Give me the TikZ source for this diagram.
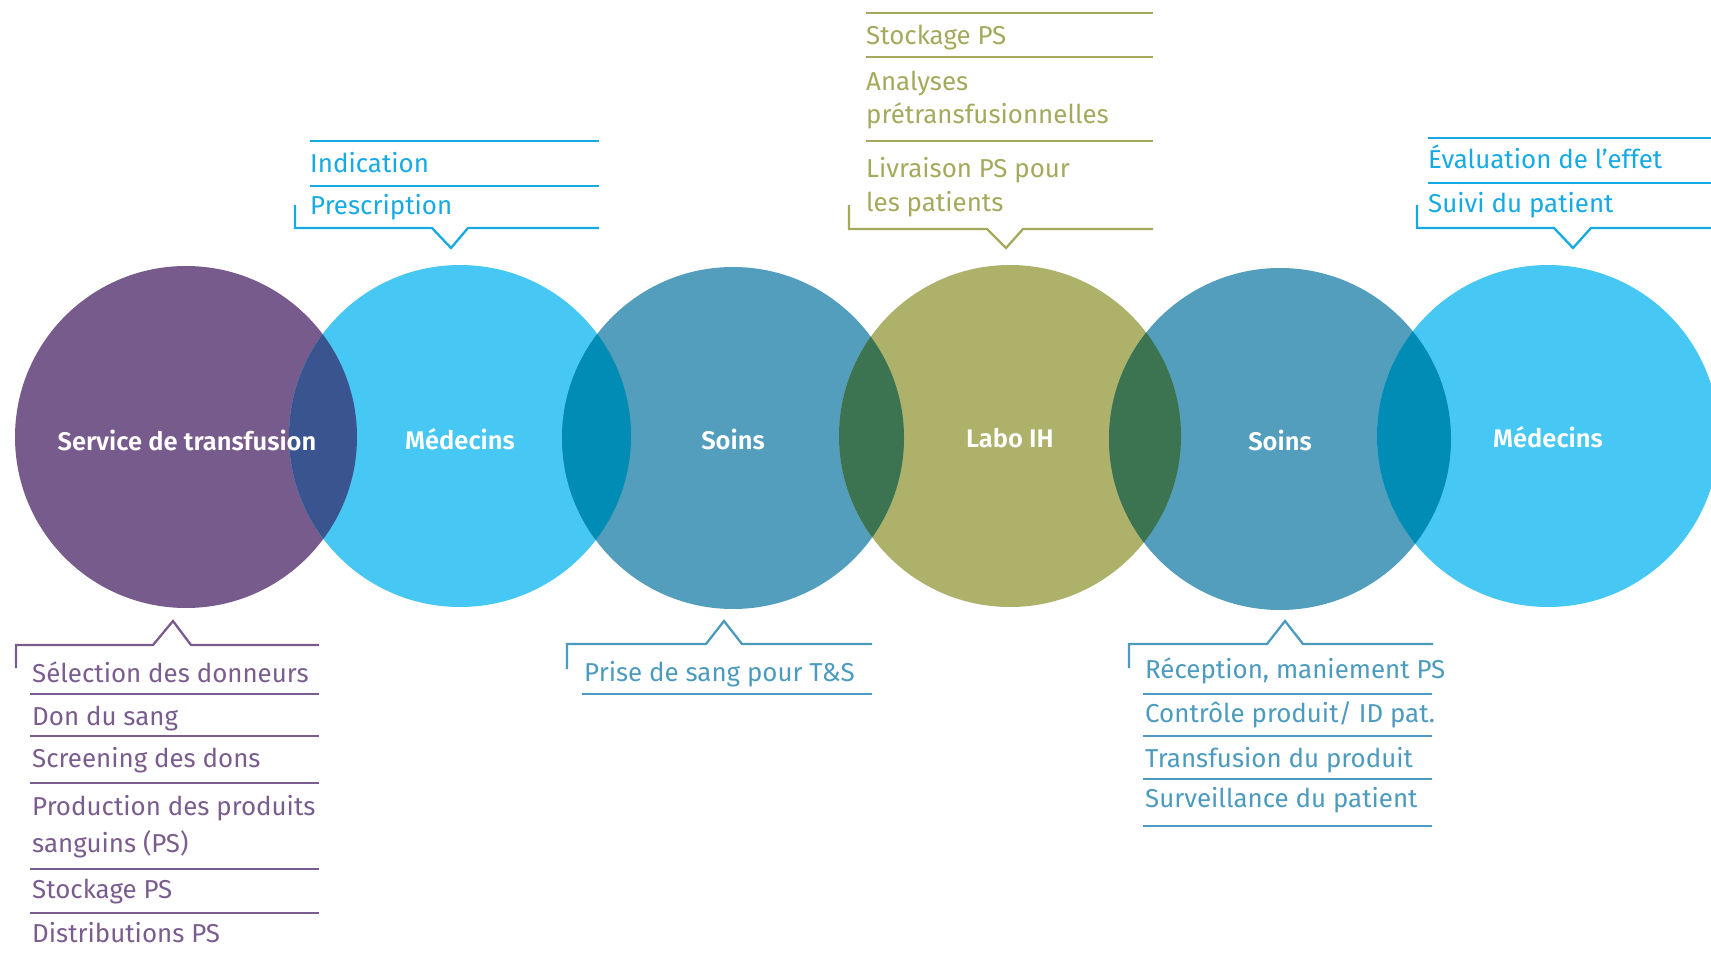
\documentclass[tikz,border=0pt]{standalone}
\usepackage{fontspec}
\setmainfont{Fira Sans}[BoldFont={Fira Sans SemiBold}]
\definecolor{cpurple}{HTML}{775B8C}
\definecolor{cblue}{HTML}{47C7F3}
\definecolor{cteal}{HTML}{539DBD}
\definecolor{colive}{HTML}{ADB16A}
\definecolor{ovpb}{HTML}{3A5490}
\definecolor{ovbt}{HTML}{008CB5}
\definecolor{ovto}{HTML}{3C7350}
\definecolor{tpurple}{HTML}{7A5D8E}
\definecolor{tblue}{HTML}{16AAE4}
\definecolor{tolive}{HTML}{A5A95C}
\definecolor{tteal}{HTML}{4C9BBF}
\tikzset{
  circlabel/.style={text=white,font=\fontsize{25.5}{30}\selectfont\bfseries,anchor=base,inner sep=0pt},
  item/.style={font=\fontsize{25.9}{30}\selectfont,anchor=base west,inner sep=0pt},
  sepline/.style={line width=1.4pt},
  bracket/.style={line width=2.3pt,line join=miter}
}
\begin{document}
\begin{tikzpicture}[x=1pt,y=-1pt]
\useasboundingbox (0,0) rectangle (1711,958);
\clip (0,0) rectangle (1711,958);
\def\R{171}
\coordinate (c1) at (186,437);
\coordinate (c2) at (460,436);
\coordinate (c3) at (733,438);
\coordinate (c4) at (1010,436);
\coordinate (c5) at (1280,439);
\coordinate (c6) at (1548,436);
% circles
\fill[cpurple] (c1) circle (\R);
\fill[cblue] (c2) circle (\R);
\fill[cteal] (c3) circle (\R);
\fill[colive] (c4) circle (\R);
\fill[cteal] (c5) circle (\R);
\fill[cblue] (c6) circle (\R);
% overlaps
\begin{scope}\clip (c1) circle (\R); \fill[ovpb] (c2) circle (\R);\end{scope}
\begin{scope}\clip (c2) circle (\R); \fill[ovbt] (c3) circle (\R);\end{scope}
\begin{scope}\clip (c3) circle (\R); \fill[ovto] (c4) circle (\R);\end{scope}
\begin{scope}\clip (c4) circle (\R); \fill[ovto] (c5) circle (\R);\end{scope}
\begin{scope}\clip (c5) circle (\R); \fill[ovbt] (c6) circle (\R);\end{scope}
% circle labels
\node[circlabel] (l1) at (187,450) {Service de transfusion};
\node[circlabel] (l2) at (460,449) {Médecins};
\node[circlabel] (l3) at (733,449) {Soins};
\node[circlabel] (l4) at (1010,447) {Labo IH};
\node[circlabel] (l5) at (1280,450) {Soins};
\node[circlabel] (l6) at (1548,447) {Médecins};

% ---- Service de transfusion block (purple)
\begin{scope}[tpurple]
\draw[bracket] (16,668) -- (16,645) -- (153,645) -- (173,621) -- (191,645) -- (319,645);
\node[item,text=tpurple] (p1) at (32,682) {Sélection des donneurs};
\draw[sepline] (30,694) -- (319,694);
\node[item,text=tpurple] (p2) at (32,725) {Don du sang};
\draw[sepline] (30,736) -- (319,736);
\node[item,text=tpurple] (p3) at (32,767) {Screening des dons};
\draw[sepline] (30,783) -- (319,783);
\node[item,text=tpurple] (p4) at (32,815) {Production des produits};
\node[item,text=tpurple] (p4b) at (32,852) {sanguins (PS)};
\draw[sepline] (30,869) -- (319,869);
\node[item,text=tpurple] (p5) at (32,898) {Stockage PS};
\draw[sepline] (30,913) -- (319,913);
\node[item,text=tpurple] (p6) at (32,942) {Distributions PS};
\end{scope}

% ---- Médecins 1 block (blue)
\begin{scope}[tblue]
\draw[sepline] (310,141) -- (599,141);
\node[item,text=tblue] (m1) at (310,172) {Indication};
\draw[sepline] (310,186) -- (599,186);
\node[item,text=tblue] (m2) at (310,214) {Prescription};
\draw[bracket] (295,205) -- (295,228) -- (432,228) -- (451,248) -- (468,228) -- (599,228);
\end{scope}

% ---- Soins 1 block (teal)
\begin{scope}[tteal]
\draw[bracket] (567,669) -- (567,644) -- (706,644) -- (724,621) -- (742,644) -- (872,644);
\node[item,text=tteal] (s1) at (584,681) {Prise de sang pour T\&S};
\draw[sepline] (582,694) -- (872,694);
\end{scope}

% ---- Labo IH block (olive)
\begin{scope}[tolive]
\draw[sepline] (866,13) -- (1153,13);
\node[item,text=tolive] (o1) at (866,45) {Stockage PS};
\draw[sepline] (866,57) -- (1153,57);
\node[item,text=tolive] (o2) at (866,90) {Analyses};
\node[item,text=tolive] (o2b) at (866,123) {prétransfusionnelles};
\draw[sepline] (866,141) -- (1153,141);
\node[item,text=tolive] (o3) at (866,177) {Livraison PS pour};
\node[item,text=tolive] (o3b) at (866,211) {les patients};
\draw[bracket] (849,205) -- (849,229) -- (987,229) -- (1006,248) -- (1023,229) -- (1153,229);
\end{scope}

% ---- Soins 2 block (teal)
\begin{scope}[tteal]
\draw[bracket] (1129,668) -- (1129,644) -- (1267,644) -- (1285,621) -- (1303,644) -- (1433,644);
\node[item,text=tteal] (t1) at (1145,678) {Réception, maniement PS};
\draw[sepline] (1143,694) -- (1432,694);
\node[item,text=tteal] (t2) at (1145,722) {Contrôle produit/ ID pat.};
\draw[sepline] (1143,736) -- (1432,736);
\node[item,text=tteal] (t3) at (1145,767) {Transfusion du produit};
\draw[sepline] (1143,779) -- (1432,779);
\node[item,text=tteal] (t4) at (1145,807) {Surveillance du patient};
\draw[sepline] (1143,826) -- (1432,826);
\end{scope}

% ---- Médecins 2 block (blue)
\begin{scope}[tblue]
\draw[sepline] (1428,138) -- (1711,138);
\node[item,text=tblue] (n1) at (1428,168) {Évaluation de l’effet};
\draw[sepline] (1428,183) -- (1711,183);
\node[item,text=tblue] (n2) at (1428,212) {Suivi du patient};
\draw[bracket] (1417,205) -- (1417,228) -- (1554,228) -- (1573,248) -- (1591,228) -- (1711,228);
\end{scope}
\end{tikzpicture}
\end{document}
